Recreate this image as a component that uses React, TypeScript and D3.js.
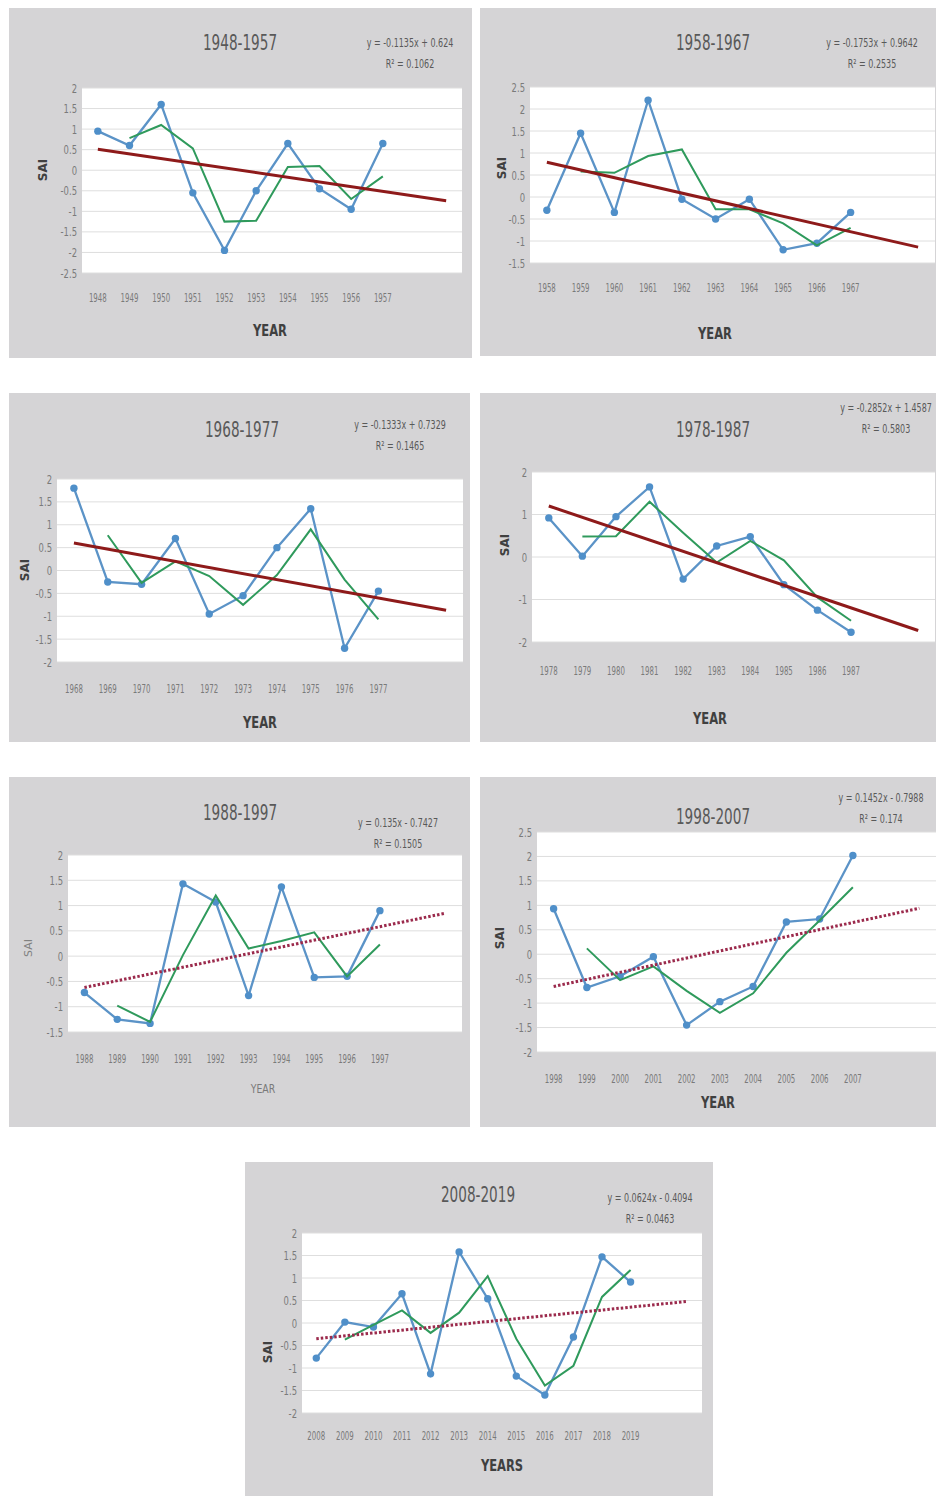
import React from 'react';
import * as d3 from 'd3';

// SAI per decade
const titles = ['1948-1957', '1958-1967', '1968-1977', '1978-1987', '1988-1997', '1998-2007', '2008-2019'];

const years4857 = ['1948', '1949', '1950', '1951', '1952', '1953', '1954', '1955', '1956', '1957'];
const years5867 = ['1958', '1959', '1960', '1961', '1962', '1963', '1964', '1965', '1966', '1967'];
const years6877 = ['1968', '1969', '1970', '1971', '1972', '1973', '1974', '1975', '1976', '1977'];
const years7887 = ['1978', '1979', '1980', '1981', '1982', '1983', '1984', '1985', '1986', '1987'];
const years8897 = ['1988', '1989', '1990', '1991', '1992', '1993', '1994', '1995', '1996', '1997'];
const years9807 = ['1998', '1999', '2000', '2001', '2002', '2003', '2004', '2005', '2006', '2007'];
const years0819 = ['2008', '2009', '2010', '2011', '2012', '2013', '2014', '2015', '2016', '2017', '2018', '2019'];

const sai4857 = [0.95, 0.6, 1.6, -0.55, -1.95, -0.5, 0.65, -0.45, -0.95, 0.65];
const sai5867 = [-0.3, 1.45, -0.35, 2.2, -0.05, -0.5, -0.05, -1.2, -1.05, -0.35];
const sai6877 = [1.8, -0.25, -0.3, 0.7, -0.95, -0.55, 0.5, 1.35, -1.7, -0.45];
const sai7887 = [0.92, 0.02, 0.95, 1.65, -0.52, 0.26, 0.48, -0.65, -1.25, -1.77];
const sai8897 = [-0.72, -1.25, -1.33, 1.43, 1.07, -0.78, 1.37, -0.42, -0.4, 0.9];
const sai9807 = [0.93, -0.68, -0.45, -0.05, -1.45, -0.97, -0.66, 0.66, 0.72, 2.02];
const sai0819 = [-0.78, 0.02, -0.09, 0.65, -1.13, 1.58, 0.54, -1.18, -1.6, -0.31, 1.47, 0.91];

// 2-period moving average (green)
const ma4857 = [null, 0.78, 1.1, 0.53, -1.25, -1.23, 0.08, 0.1, -0.7, -0.15];
const ma5867 = [null, 0.58, 0.55, 0.93, 1.08, -0.28, -0.28, -0.6, -1.1, -0.7];
const ma6877 = [null, 0.77, -0.27, 0.2, -0.12, -0.75, -0.1, 0.9, -0.2, -1.07];
const ma7887 = [null, 0.48, 0.49, 1.3, 0.57, -0.13, 0.38, -0.08, -0.95, -1.5];
const ma8897 = [null, -0.98, -1.3, 0.02, 1.2, 0.15, 0.3, 0.47, -0.4, 0.23];
const ma9807 = [null, 0.12, -0.53, -0.25, -0.75, -1.2, -0.8, 0.03, 0.69, 1.37];
const ma0819 = [null, -0.37, -0.04, 0.28, -0.22, 0.23, 1.04, -0.35, -1.39, -0.95, 0.58, 1.18];

// linear trend: value at first category and at the last forecast category
const trendStart = [0.51, 0.79, 0.6, 1.2, -0.62, -0.66, -0.35];
const trendEnd = [-0.74, -1.14, -0.87, -1.73, 0.85, 0.94, 0.48];

const equations = [
  'y = -0.1135x + 0.624', 'y = -0.1753x + 0.9642', 'y = -0.1333x + 0.7329', 'y = -0.2852x + 1.4587',
  'y = 0.135x - 0.7427', 'y = 0.1452x - 0.7988', 'y = 0.0624x - 0.4094',
];
const rSquared = ['0.1062', '0.2535', '0.1465', '0.5803', '0.1505', '0.174', '0.0463'];

const yMin = [-2.5, -1.5, -2, -2, -1.5, -2, -2];
const yMax = [2, 2.5, 2, 2, 2, 2.5, 2];
const yStep = [0.5, 0.5, 0.5, 1, 0.5, 0.5, 0.5];

const yearLists = [years4857, years5867, years6877, years7887, years8897, years9807, years0819];
const saiLists = [sai4857, sai5867, sai6877, sai7887, sai8897, sai9807, sai0819];
const maLists = [ma4857, ma5867, ma6877, ma7887, ma8897, ma9807, ma0819];

// page layout for each panel
const layout = [
  { box: [9, 8, 463, 350], plot: [82, 462, 88, 273], title: [240, 43], eq: [410, 43], xl: 297, axis: [270, 330], sai: [43, 170], axisLabel: 'YEAR', dotted: false, bold: true },
  { box: [480, 8, 456, 348], plot: [530, 935, 87, 263], title: [713, 43], eq: [872, 43], xl: 287, axis: [715, 333], sai: [502, 168], axisLabel: 'YEAR', dotted: false, bold: true },
  { box: [9, 393, 461, 349], plot: [57, 463, 479, 662], title: [242, 430], eq: [400, 425], xl: 688, axis: [260, 722], sai: [25, 570], axisLabel: 'YEAR', dotted: false, bold: true },
  { box: [480, 393, 456, 349], plot: [532, 935, 472, 642], title: [713, 430], eq: [886, 408], xl: 670, axis: [710, 718], sai: [505, 545], axisLabel: 'YEAR', dotted: false, bold: true },
  { box: [9, 777, 461, 350], plot: [68, 462, 855, 1032], title: [240, 813], eq: [398, 823], xl: 1058, axis: [263, 1088], sai: [28, 948], axisLabel: 'YEAR', dotted: true, bold: false },
  { box: [480, 777, 456, 350], plot: [537, 936, 832, 1052], title: [713, 817], eq: [881, 798], xl: 1078, axis: [718, 1102], sai: [500, 938], axisLabel: 'YEAR', dotted: true, bold: true },
  { box: [245, 1162, 468, 334], plot: [302, 702, 1233, 1413], title: [478, 1195], eq: [650, 1198], xl: 1435, axis: [502, 1465], sai: [268, 1352], axisLabel: 'YEARS', dotted: true, bold: true },
];

const NARROW = '"Liberation Sans Narrow", "DejaVu Sans Condensed", sans-serif';

// condensed text: horizontally squeezed like the Calibri Light of the source
function CText({ x, y, size, sx, anchor = 'middle', fill = '#595959', weight = 'normal', children }: any) {
  return (
    <text transform={`translate(${x},${y}) scale(${sx},1)`} dy="0.35em" textAnchor={anchor}
      fontSize={size} fontWeight={weight} fill={fill} fontFamily={NARROW}>
      {children}
    </text>
  );
}

function Panel({ i }: { i: number }) {
  const L = layout[i];
  const years = yearLists[i];
  const sai = saiLists[i];
  const ma = maLists[i];
  const nCats = years.length + 2; // trend forecast two periods forward
  const [px0, px1, py0, py1] = L.plot;

  const x = d3.scaleBand<number>().domain(d3.range(nCats)).range([px0, px1]).padding(0);
  const cx = (k: number) => (x(k) as number) + x.bandwidth() / 2;
  const y = d3.scaleLinear().domain([yMin[i], yMax[i]]).range([py1, py0]);
  const ticks = d3.range(yMin[i], yMax[i] + yStep[i] / 2, yStep[i]);

  const line = d3.line<number | null>()
    .defined((d) => d != null)
    .x((_, k) => cx(k))
    .y((d) => y(d as number));

  const [bx, by, bw, bh] = L.box;

  return (
    <g>
      <rect x={bx} y={by} width={bw} height={bh} fill="#d5d4d6" />
      <rect x={px0} y={py0} width={px1 - px0} height={py1 - py0} fill="#ffffff" />
      {ticks.map((t) => (
        <g key={t}>
          <line x1={px0} x2={px1} y1={y(t)} y2={y(t)} stroke="#dedede" strokeWidth={1} />
          <CText x={px0 - 5} y={y(t)} size={13} sx={0.72} anchor="end" fill="#7a7a7a">{String(t)}</CText>
        </g>
      ))}
      {years.map((yr, k) => (
        <CText key={yr} x={cx(k)} y={L.xl} size={13} sx={0.6} fill="#7a7a7a">{yr}</CText>
      ))}
      <path d={line(sai) || ''} fill="none" stroke="#5b93c7" strokeWidth={2.3} />
      {sai.map((v, k) => (
        <circle key={k} cx={cx(k)} cy={y(v)} r={3.7} fill="#4f8fc9" />
      ))}
      <path d={line(ma) || ''} fill="none" stroke="#2f9a5c" strokeWidth={2} />
      <line
        x1={cx(0)} y1={y(trendStart[i])} x2={cx(nCats - 1)} y2={y(trendEnd[i])}
        stroke={L.dotted ? '#9b2a4c' : '#8e1a1a'}
        strokeWidth={3}
        strokeDasharray={L.dotted ? '2.5 2' : undefined}
      />
      <CText x={L.title[0]} y={L.title[1]} size={21} sx={0.72}>{titles[i]}</CText>
      <CText x={L.eq[0]} y={L.eq[1]} size={12} sx={0.74}>{equations[i]}</CText>
      <CText x={L.eq[0]} y={L.eq[1] + 21} size={12} sx={0.74}>R² = {rSquared[i]}</CText>
      <CText x={L.axis[0]} y={L.axis[1]} size={L.bold ? 16 : 13} sx={0.8}
        weight={L.bold ? 'bold' : 'normal'} fill={L.bold ? '#404040' : '#7a7a7a'}>
        {L.axisLabel}
      </CText>
      <text transform={`translate(${L.sai[0]},${L.sai[1]}) rotate(-90)`} dy="0.35em" textAnchor="middle"
        fontSize={L.bold ? 12 : 11} fontWeight={L.bold ? 'bold' : 'normal'}
        fill={L.bold ? '#404040' : '#808080'} fontFamily={'"DejaVu Sans", sans-serif'}>
        SAI
      </text>
    </g>
  );
}

export default function App() {
  return (
    <svg width={936} height={1496} style={{ position: 'absolute', left: 0, top: 0, background: '#ffffff' }}>
      <rect x={0} y={0} width={936} height={1496} fill="#ffffff" />
      {titles.map((_, i) => (
        <Panel key={i} i={i} />
      ))}
    </svg>
  );
}
